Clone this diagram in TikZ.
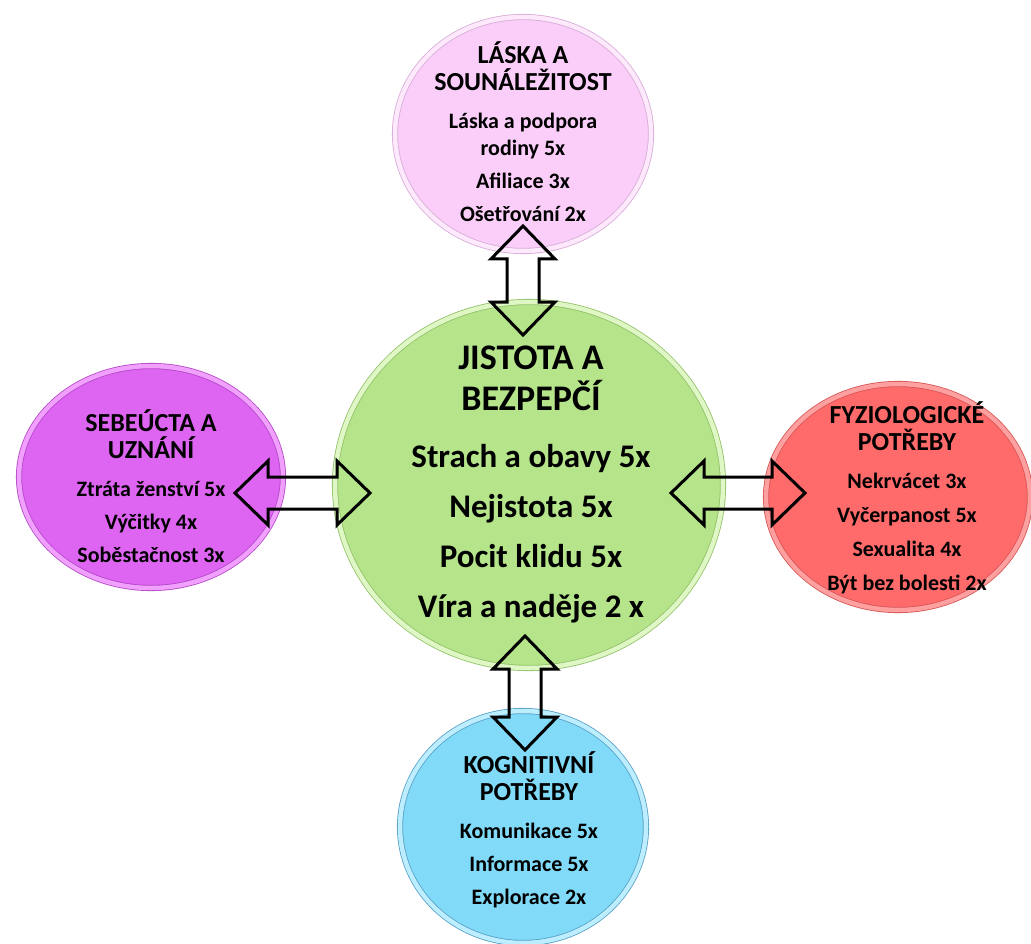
\documentclass[tikz,border=0pt]{standalone}
\usepackage{fontspec}
\setmainfont{Carlito}
\usepackage{tikz}
\usetikzlibrary{calc,shapes.geometric}
\definecolor{pinkfill}{RGB}{250,206,248}
\definecolor{pinkrim}{RGB}{253,232,252}
\definecolor{pinkedge}{RGB}{214,172,214}
\definecolor{purplefill}{RGB}{222,100,242}
\definecolor{purplerim}{RGB}{242,160,255}
\definecolor{purpleedge}{RGB}{178,72,196}
\definecolor{greenfill}{RGB}{181,228,138}
\definecolor{greenrim}{RGB}{222,247,196}
\definecolor{greenedge}{RGB}{146,192,106}
\definecolor{redfill}{RGB}{255,107,107}
\definecolor{redrim}{RGB}{255,160,160}
\definecolor{rededge}{RGB}{214,84,84}
\definecolor{bluefill}{RGB}{128,218,248}
\definecolor{bluerim}{RGB}{188,238,255}
\definecolor{blueedge}{RGB}{88,160,196}
\tikzset{
  need-bubble/.style={ellipse, inner sep=0pt, outer sep=0pt, line width=0.8pt,
    double distance=4.5pt},
  need-text/.style={align=center, inner sep=0pt,
    font=\bfseries\fontsize{22}{27}\selectfont},
  core-text/.style={align=center, inner sep=0pt,
    font=\bfseries\fontsize{33}{41}\selectfont},
  block-arrow/.style={draw=black, line width=3pt, line join=miter}
}
\newcommand{\needtitle}{\bfseries\fontsize{26}{27}\selectfont}
\newcommand{\coretitle}{\bfseries\fontsize{36}{41}\selectfont}
\newcommand{\headlen}{33pt}
\newcommand{\headhalf}{32pt}
\newcommand{\shafthalf}{16pt}
% hollow double block arrow between two named points
\newcommand{\blockarrow}[2]{%
  \draw[block-arrow] (#1)
    -- ($(#1)!\headlen!(#2)!\headhalf!90:(#2)$)
    -- ($(#1)!\headlen!(#2)!\shafthalf!90:(#2)$)
    -- ($(#2)!\headlen!(#1)!\shafthalf!-90:(#1)$)
    -- ($(#2)!\headlen!(#1)!\headhalf!-90:(#1)$)
    -- (#2)
    -- ($(#2)!\headlen!(#1)!\headhalf!90:(#1)$)
    -- ($(#2)!\headlen!(#1)!\shafthalf!90:(#1)$)
    -- ($(#1)!\headlen!(#2)!\shafthalf!-90:(#2)$)
    -- ($(#1)!\headlen!(#2)!\headhalf!-90:(#2)$)
    -- cycle;}
\begin{document}
\begin{tikzpicture}[x=1pt, y=-1pt]
\useasboundingbox (0,0) rectangle (1031,944);
\fill[white] (0,0) rectangle (1031,944);

% Bubbles
\node[need-bubble, fill=greenfill, draw=greenedge, double=greenrim,
  minimum width=388pt, minimum height=366pt] (jist) at (529,485) {};
\node[need-bubble, fill=pinkfill, draw=pinkedge, double=pinkrim,
  minimum width=256pt, minimum height=234pt] (laska) at (523,134) {};
\node[need-bubble, fill=purplefill, draw=purpleedge, double=purplerim,
  minimum width=264pt, minimum height=222pt] (sebe) at (151,477) {};
\node[need-bubble, fill=redfill, draw=rededge, double=redrim,
  minimum width=264pt, minimum height=226pt] (fyzio) at (898,497) {};
\node[need-bubble, fill=bluefill, draw=blueedge, double=bluerim,
  minimum width=246pt, minimum height=232pt] (kogn) at (523,827) {};

% Arrow ends
\coordinate (up-a) at ($(laska.south)+(0,-25)$);
\coordinate (up-b) at ($(jist.north -| up-a)+(0,33)$);
\coordinate (left-a) at ($(sebe.east)+(-48,16)$);
\coordinate (left-b) at ($(jist.west |- left-a)+(35,0)$);
\coordinate (right-a) at ($(jist.east)+(-52,8)$);
\coordinate (right-b) at ($(fyzio.west |- right-a)+(39,0)$);
\coordinate (down-a) at ($(jist.south)+(-4,-32)$);
\coordinate (down-b) at ($(kogn.north -| down-a)+(0,39)$);

\blockarrow{up-a}{up-b}
\blockarrow{left-a}{left-b}
\blockarrow{right-a}{right-b}
\blockarrow{down-a}{down-b}

% Texts
\node[core-text] (jist-text) at ($(jist)+(2,-1)$)
  {\coretitle JISTOTA A\\\coretitle BEZPEPČÍ\\[16pt]
   Strach a obavy 5x\\[9pt] Nejistota 5x\\[9pt] Pocit klidu 5x\\[9pt] Víra a naděje 2 x};
\node[need-text] (laska-text) at ($(laska)+(0,-2)$)
  {\needtitle LÁSKA A\\\needtitle SOUNÁLEŽITOST\\[11pt]
   Láska a podpora\\rodiny 5x\\[6pt] Afiliace 3x\\[6pt] Ošetřování 2x};
\node[need-text] (sebe-text) at ($(sebe)+(0,9)$)
  {\needtitle SEBEÚCTA A\\\needtitle UZNÁNÍ\\[11pt]
   Ztráta ženství 5x\\[6pt] Výčitky 4x\\[6pt] Soběstačnost 3x};
\node[need-text] (fyzio-text) at ($(fyzio)+(9,1)$)
  {\needtitle FYZIOLOGICKÉ\\\needtitle POTŘEBY\\[11pt]
   Nekrvácet 3x\\[7pt] Vyčerpanost 5x\\[7pt] Sexualita 4x\\[7pt] Být bez bolesti 2x};
\node[need-text] (kogn-text) at ($(kogn)+(6,3)$)
  {\needtitle KOGNITIVNÍ\\\needtitle POTŘEBY\\[11pt]
   Komunikace 5x\\[6pt] Informace 5x\\[6pt] Explorace 2x};
\end{tikzpicture}
\end{document}
